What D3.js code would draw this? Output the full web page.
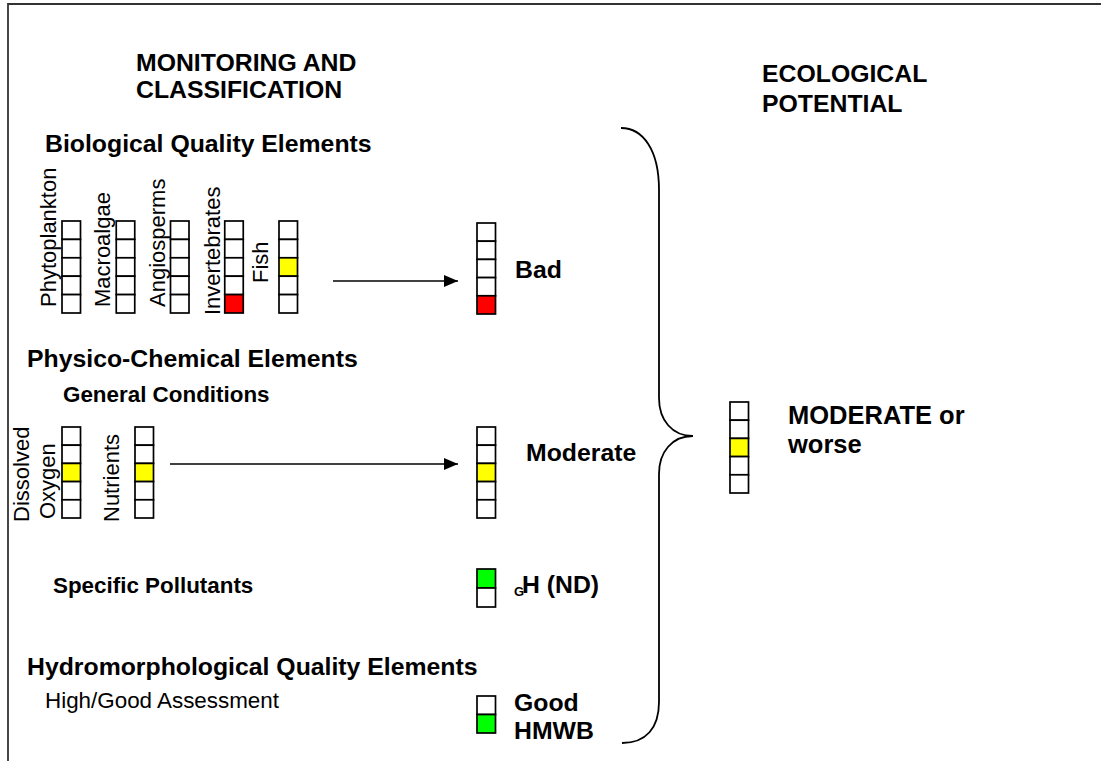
<!doctype html>
<html lang="en">
<head>
	<meta charset="utf-8">
	<title>Monitoring and Classification - Ecological Potential</title>
	<style>
		html, body { margin: 0; padding: 0; background: #fff; }
		svg { display: block; font-family: "Liberation Sans", Arial, sans-serif; }
	</style>
</head>
<body>
	<svg id="Diagram"></svg>

	<script src="https://cdn.jsdelivr.net/npm/d3@7/dist/d3.min.js"></script>
	<script>
		// classification levels, top cell first
		var levels = [ "High", "Good", "Moderate", "Poor", "Bad" ],
			twoLevels = [ "High", "Good" ];

		// biological quality elements and the class each one got (null = not assessed)
		var bioElements = [ "Phytoplankton", "Macroalgae", "Angiosperms", "Invertebrates", "Fish" ],
			bioClass = [ null, null, null, "Bad", "Moderate" ];

		// physico-chemical general conditions
		var pcElements = [ [ "Dissolved", "Oxygen" ], [ "Nutrients" ] ],
			pcClass = [ "Moderate", "Moderate" ];

		// combined result for each group
		var resultLabels = [ [ "Bad" ], [ "Moderate" ], [ "GH (ND)" ], [ "Good", "HMWB" ] ],
			resultClass = [ "Bad", "Moderate", "High", "Good" ],
			resultLevels = [ levels, levels, twoLevels, twoLevels ];

		// overall ecological potential
		var overallLabel = [ "MODERATE or", "worse" ],
			overallClass = "Moderate";

		var colour = { High: "#00ff00", Good: "#00ff00", Moderate: "#ffff00", Poor: "#ff9900", Bad: "#ff0000" };

		(function () {
			"use strict"

			var W = 1101, H = 761,
				boxW = 18.5,
				big = 24.8, mid = 22.4;

			var svg = d3.select("#Diagram").attr("width", W).attr("height", H);

			var defs = svg.append("defs");
			defs.append("marker")
				.attr("id", "arrow")
				.attr("viewBox", "0 0 14 12")
				.attr("refX", 14).attr("refY", 6)
				.attr("markerWidth", 14).attr("markerHeight", 12)
				.attr("markerUnits", "userSpaceOnUse")
				.attr("orient", "auto")
				.append("path")
					.attr("d", "M0,0L14,6L0,12Z")
					.attr("fill", "#000");

			// page frame (top and left edge only)
			svg.append("path")
				.attr("d", "M8," + H + "L8,4L" + W + ",4")
				.attr("fill", "none")
				.attr("stroke", "#333")
				.attr("stroke-width", 1.8);

			// draws a stacked class box with the given class highlighted
			function classBox(g, x, top, height, domain, cls) {
				var y = d3.scaleBand().domain(domain).range([ top, top + height ]);
				g.append("g").selectAll("rect")
					.data(domain)
					.join("rect")
						.attr("x", x)
						.attr("y", function (d) { return y(d); })
						.attr("width", boxW)
						.attr("height", y.bandwidth())
						.attr("fill", function (d) { return d === cls ? colour[d] : "#fff"; })
						.attr("stroke", "#000")
						.attr("stroke-width", 1.7);
			}

			function text(str, x, y, size, weight) {
				return svg.append("text")
					.attr("x", x).attr("y", y)
					.attr("font-size", size)
					.attr("font-weight", weight || "bold")
					.attr("fill", "#000")
					.text(str);
			}

			function vtext(str, x, y, size) {
				return svg.append("text")
					.attr("transform", "translate(" + x + "," + y + ") rotate(-90)")
					.attr("font-size", size)
					.attr("fill", "#000")
					.text(str);
			}

			// headings
			text("MONITORING AND", 136, 71, big);
			text("CLASSIFICATION", 136, 98, big);
			text("ECOLOGICAL", 762, 82, big);
			text("POTENTIAL", 762, 112, big);

			text("Biological Quality Elements", 45, 152, big);
			text("Physico-Chemical Elements", 27, 367, big);
			text("General Conditions", 63, 402, mid);
			text("Specific Pollutants", 53, 593, mid);
			text("Hydromorphological Quality Elements", 27, 675, big);
			text("High/Good Assessment", 45, 708, mid, "normal");

			// biological elements
			var xBio = d3.scalePoint().domain(bioElements).range([ 62, 279 ]);
			var bioLabelShift = { Fish: { dx: -11, y: 283 }, Invertebrates: { dx: -5, y: 315 } };
			bioElements.forEach(function (name, i) {
				var x = xBio(name),
					s = bioLabelShift[name] || { dx: -6, y: 307 };
				classBox(svg, x, 221, 92, levels, bioClass[i]);
				vtext(name, x + s.dx, s.y, 22);
			});

			// physico-chemical general conditions
			var xPc = d3.scalePoint().domain(pcElements.map(function (d) { return d.join(" "); })).range([ 62, 135 ]);
			pcElements.forEach(function (lines, i) {
				var x = xPc(lines.join(" "));
				classBox(svg, x, 427, 91, levels, pcClass[i]);
				if (lines.length === 2) {
					vtext(lines[0], x - 33, 522, 22);
					vtext(lines[1], x - 7, 519, 22);
				} else {
					vtext(lines[0], x - 16, 522, 22);
				}
			});

			// arrows into the group results
			svg.append("line").attr("x1", 333).attr("y1", 281).attr("x2", 458).attr("y2", 281)
				.attr("stroke", "#000").attr("stroke-width", 1.7).attr("marker-end", "url(#arrow)");
			svg.append("line").attr("x1", 170).attr("y1", 464).attr("x2", 458).attr("y2", 464)
				.attr("stroke", "#000").attr("stroke-width", 1.7).attr("marker-end", "url(#arrow)");

			// group results
			var resTop = [ 223, 427, 569, 696 ],
				resH = [ 91, 91, 38, 37 ];
			resultLabels.forEach(function (lab, i) {
				classBox(svg, 477, resTop[i], resH[i], resultLevels[i], resultClass[i]);
			});
			text(resultLabels[0][0], 515, 278, big);
			text(resultLabels[1][0], 526, 461, big);
			var gh = resultLabels[2][0];
			text(gh.charAt(0), 514, 596, 13);
			text(gh.slice(1), 522, 593, big);
			text(resultLabels[3][0], 514, 711, big);
			text(resultLabels[3][1], 514, 739, big);

			// brace collecting the results
			var b = d3.path();
			b.moveTo(621, 128);
			b.bezierCurveTo(643, 128, 659, 150, 659, 190);
			b.lineTo(659, 398);
			b.bezierCurveTo(659, 420, 672, 436, 693, 436);
			b.bezierCurveTo(672, 436, 659, 452, 659, 474);
			b.lineTo(659, 702);
			b.bezierCurveTo(659, 728, 646, 743, 622, 743);
			svg.append("path")
				.attr("d", b.toString())
				.attr("fill", "none")
				.attr("stroke", "#000")
				.attr("stroke-width", 1.8);

			// overall ecological potential
			classBox(svg, 730, 402, 91, levels, overallClass);
			text(overallLabel[0], 788, 424, 25.5);
			text(overallLabel[1], 788, 453, 25.5);
		})();
	</script>
</body>
</html>
